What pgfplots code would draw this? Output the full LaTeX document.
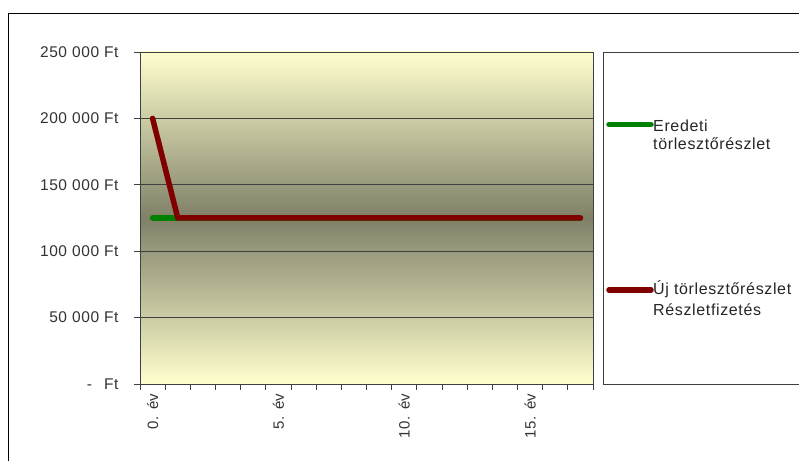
\documentclass[border=0pt]{standalone}
\usepackage{pgfplots}
\pgfplotsset{compat=1.18}
\usepackage{fontspec}
\setmainfont[LetterSpace=4]{Liberation Sans}

\definecolor{bgLight}{RGB}{255,255,206}
\definecolor{bgDark}{RGB}{128,128,104}
\definecolor{serGreen}{RGB}{0,128,0}
\definecolor{serRed}{RGB}{128,0,0}
\definecolor{frame}{RGB}{64,64,64}

\begin{document}
\begin{tikzpicture}[x=1bp, y=1bp]
  \useasboundingbox (0,0) rectangle (799,461);
  \clip (0,0) rectangle (799,461);
  \fill[white] (0,0) rectangle (799,461);
  % Diagram keret
  \draw[black, line width=1.2bp] (8.5,-10) -- (8.5,447.7) -- (820,447.7);

  \begin{axis}[
    at={(140bp,77bp)}, anchor=south west,
    scale only axis, width=453bp, height=332bp,
    xmin=-0.5, xmax=17.5, ymin=0, ymax=250000,
    scaled y ticks=false,
    xtick={-0.5,0.5,...,17.5},
    x tick label as interval,
    xticklabels={0. év,,,,,5. év,,,,,10. év,,,,,15. év,,},
    xticklabel style={rotate=90, anchor=east, font=\fontsize{15bp}{17bp}\selectfont, text=black!80},
    ytick={0,50000,100000,150000,200000,250000},
    yticklabels={{-\hspace{12bp}Ft},50 000 Ft,100 000 Ft,150 000 Ft,200 000 Ft,250 000 Ft},
    yticklabel style={font=\fontsize{15.5bp}{17bp}\selectfont, text=black!80, xshift=-12bp},
    tick pos=left, tick align=outside, major tick length=6bp,
    tick style={frame, line width=0.8bp},
    ymajorgrids, grid style={frame, line width=0.8bp},
    axis line style={frame, line width=0.8bp},
    axis background/.style={top color=bgLight, bottom color=bgLight, middle color=bgDark},
    clip=false,
  ]
    % Eredeti törlesztőrészlet
    \addplot[serGreen, line width=5.5bp, line cap=round, line join=round] coordinates {
      (0,125000) (1,125000) (2,125000) (3,125000) (4,125000) (5,125000)
      (6,125000) (7,125000) (8,125000) (9,125000) (10,125000) (11,125000)
      (12,125000) (13,125000) (14,125000) (15,125000) (16,125000) (17,125000)
    };
    % Új törlesztőrészlet
    \addplot[serRed, line width=5.5bp, line cap=round, line join=round] coordinates {
      (0,200000) (1,125000) (2,125000) (3,125000) (4,125000) (5,125000)
      (6,125000) (7,125000) (8,125000) (9,125000) (10,125000) (11,125000)
      (12,125000) (13,125000) (14,125000) (15,125000) (16,125000) (17,125000)
    };
  \end{axis}

  % Jelmagyarázat
  \draw[frame, line width=0.8bp] (603,77) rectangle (830,409);
  \begin{scope}[every node/.style={anchor=base west, inner sep=0pt, text=black!85, font=\fontsize{16bp}{18bp}\selectfont}]
    \draw[serGreen, line width=5.5bp, line cap=round] (609,336.5) -- (651,336.5);
    \node at (653,329.5) {Eredeti};
    \node at (653,311) {törlesztőrészlet};
    \draw[serRed, line width=5.5bp, line cap=round] (609,171) -- (651,171);
    \node at (653,166) {Új törlesztőrészlet};
    \node at (653,145) {Részletfizetés};
  \end{scope}
\end{tikzpicture}
\end{document}
